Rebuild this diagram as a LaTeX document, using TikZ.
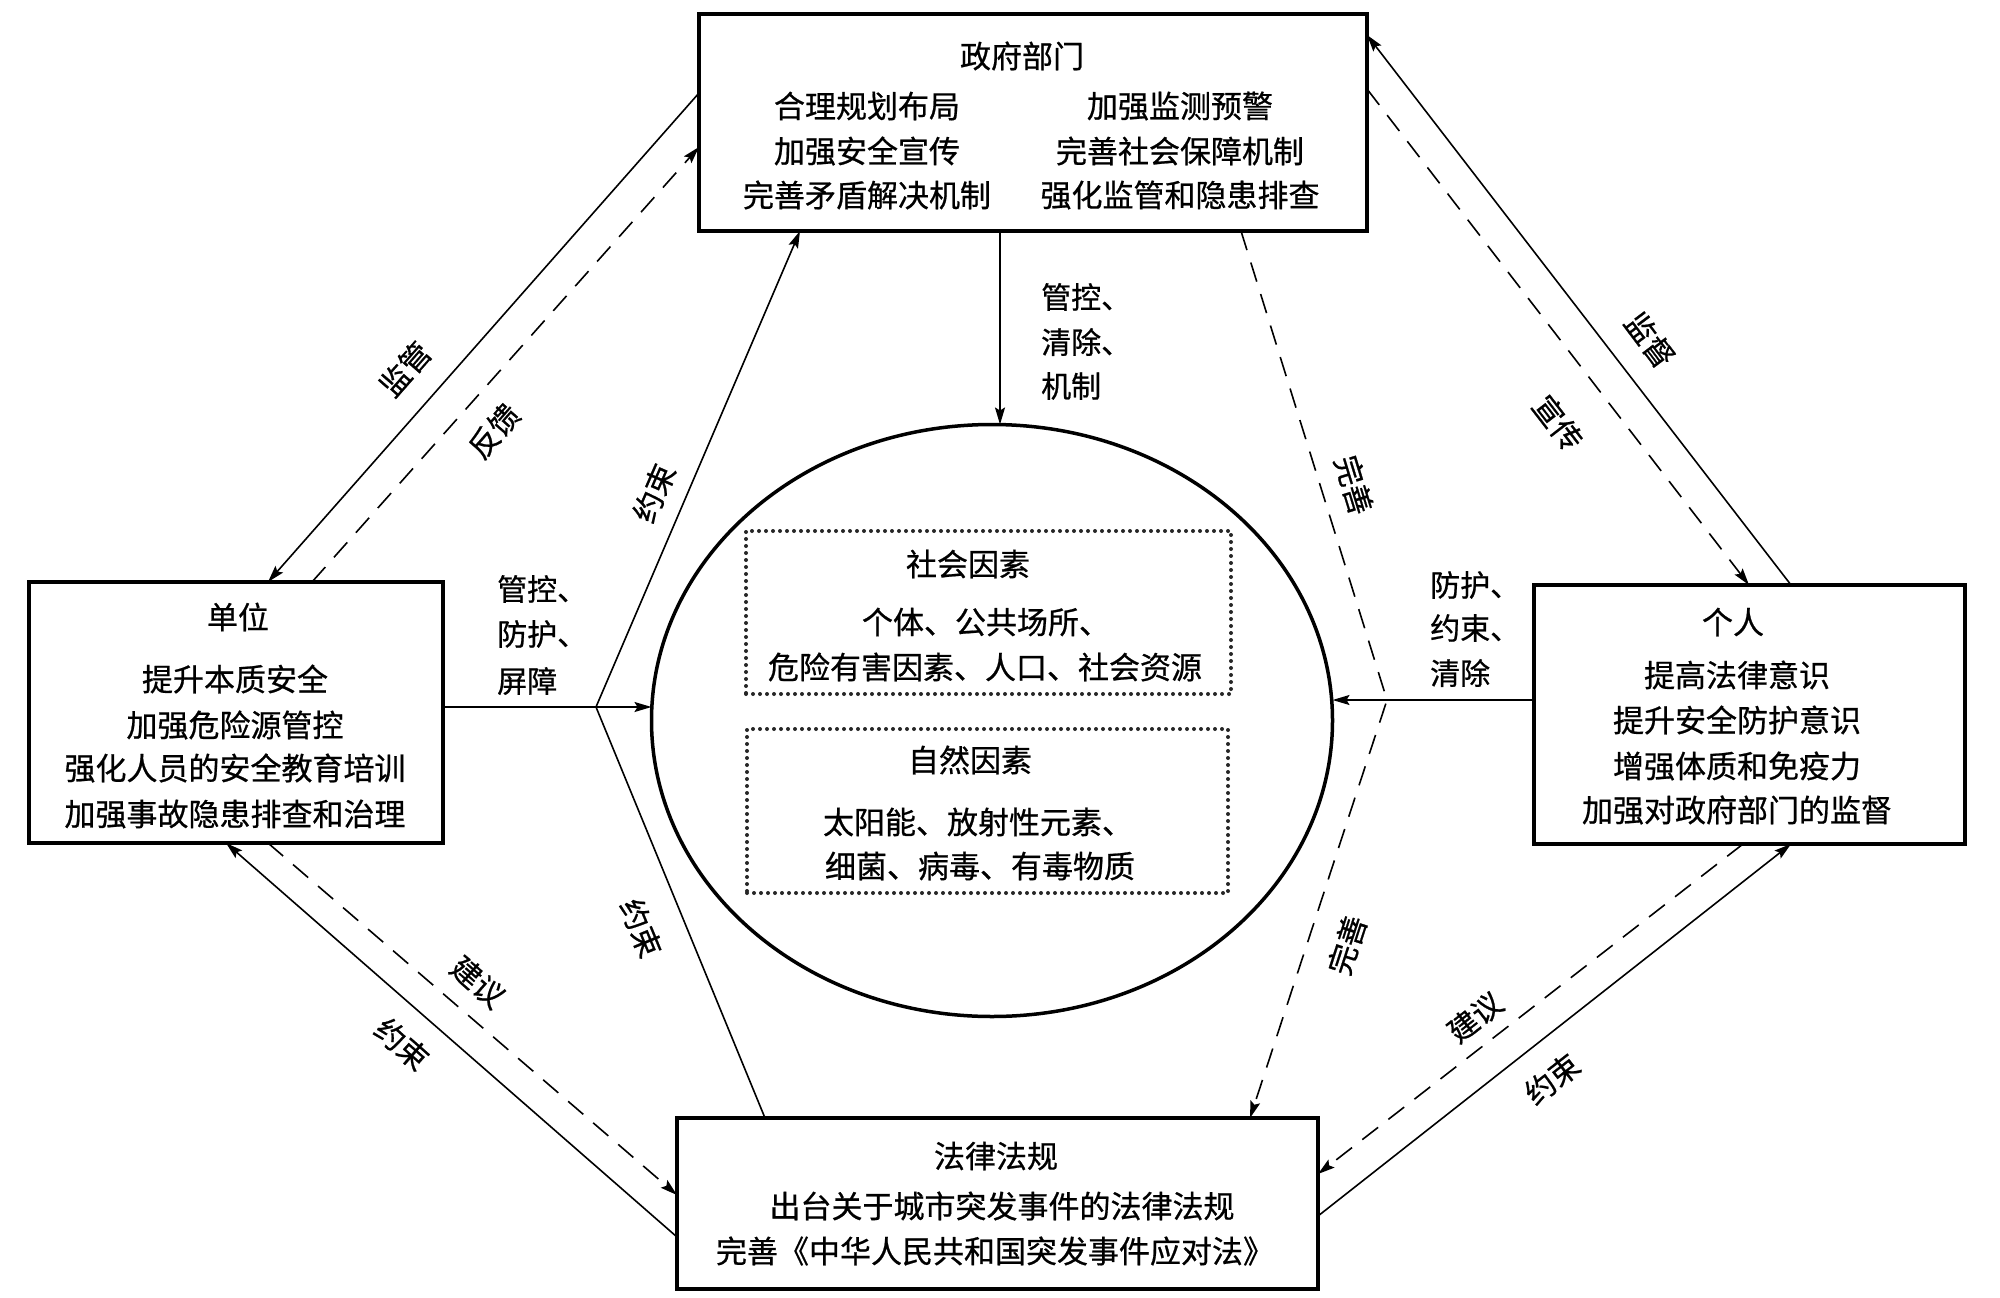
\documentclass[tikz,border=0pt]{standalone}
\usepackage{fontspec}
\newfontfamily\cjk[FakeBold=0.7]{Noto Sans CJK SC}
\usetikzlibrary{arrows.meta,shapes.geometric}
\begin{document}
\begin{tikzpicture}[x=1pt,y=-1pt,
  box/.style={draw, line width=4.5pt, rectangle, inner sep=0pt, outer sep=0pt},
  dotbox/.style={draw=black!85, line width=4pt, dash pattern=on 0pt off 7pt, line cap=round, inner sep=0pt, outer sep=0pt},
  txt/.style={font=\cjk\fontsize{31}{37}\selectfont, inner sep=0pt},
  lbl/.style={font=\cjk\fontsize{30}{36}\selectfont, inner sep=0pt},
  side/.style={lbl, anchor=west},
  conn/.style={line width=1.6pt},
  dsh/.style={line width=1.6pt, dash pattern=on 20pt off 13pt},
  arr/.style={-{Stealth[length=17pt,width=10pt,inset=3pt]}},
]
\useasboundingbox[fill=white] (0,0) rectangle (2000,1298);

% main boxes
\node[box, minimum width=668pt, minimum height=217pt] (gov) at (1033,122.5) {};
\node[box, minimum width=414pt, minimum height=261pt] (unit) at (236,712.5) {};
\node[box, minimum width=431pt, minimum height=259pt] (person) at (1749.5,714.5) {};
\node[box, minimum width=641pt, minimum height=171pt] (law) at (997.5,1203.5) {};
\node[ellipse, draw, line width=3.5pt, inner sep=0pt, outer sep=0pt, minimum width=681pt, minimum height=592pt] (ell) at (992,720.5) {};
\node[dotbox, minimum width=485pt, minimum height=163pt] (soc) at (988.5,612.5) {};
\node[dotbox, minimum width=481pt, minimum height=164pt] (nat) at (987.5,811) {};

% government texts
\node[txt] (govT) at (1022,56) {政府部门};
\node[txt] (govA1) at (867,106) {合理规划布局};
\node[txt] (govA2) at (867,151) {加强安全宣传};
\node[txt] (govA3) at (867,195) {完善矛盾解决机制};
\node[txt] (govB1) at (1180,106) {加强监测预警};
\node[txt] (govB2) at (1180,151) {完善社会保障机制};
\node[txt] (govB3) at (1180,195) {强化监管和隐患排查};

% unit texts
\node[txt] (unitT) at (238,617) {单位};
\node[txt] (unit1) at (235,679) {提升本质安全};
\node[txt] (unit2) at (235,725) {加强危险源管控};
\node[txt] (unit3) at (235,768) {强化人员的安全教育培训};
\node[txt] (unit4) at (235,814) {加强事故隐患排查和治理};

% person texts
\node[txt] (perT) at (1733,622) {个人};
\node[txt] (per1) at (1737,675) {提高法律意识};
\node[txt] (per2) at (1737,720) {提升安全防护意识};
\node[txt] (per3) at (1737,766) {增强体质和免疫力};
\node[txt] (per4) at (1737,810) {加强对政府部门的监督};

% law texts
\node[txt] (lawT) at (996,1156) {法律法规};
\node[txt] (law1) at (1002,1206) {出台关于城市突发事件的法律法规};
\node[txt] (law2) at (995,1251) {完善《中华人民共和国突发事件应对法》};

% factor texts
\node[txt] (socT) at (968,564) {社会因素};
\node[txt] (soc1) at (986,622) {个体、公共场所、};
\node[txt] (soc2) at (985,667) {危险有害因素、人口、社会资源};
\node[txt] (natT) at (970,760) {自然因素};
\node[txt] (nat1) at (978,822) {太阳能、放射性元素、};
\node[txt] (nat2) at (980,866) {细菌、病毒、有毒物质};

% side labels
\node[side] (gl1) at (1041,297) {管控、};
\node[side] (gl2) at (1041,342) {清除、};
\node[side] (gl3) at (1041,386) {机制};
\node[side] (ul1) at (497,589) {管控、};
\node[side] (ul2) at (497,634) {防护、};
\node[side] (ul3) at (497,681) {屏障};
\node[side] (pl1) at (1430,585) {防护、};
\node[side] (pl2) at (1430,628) {约束、};
\node[side] (pl3) at (1430,673) {清除};

% kinks
\coordinate (kL) at (596,707);
\coordinate (kR) at (1387,700);

% connectors
\draw[conn, arr] (gov.west |- 0,93) -- (268,0 |- unit.north);
\draw[dsh, arr] (312,0 |- unit.north) -- (gov.west |- 0,147);
\draw[conn, arr] (1000,0 |- gov.south) -- (1000,0 |- ell.north);
\draw[dsh, arr] (1241,0 |- gov.south) -- (kR) -- (1250,0 |- law.north);
\draw[conn, arr] (765,0 |- law.north) -- (kL) -- (800,0 |- gov.south);
\draw[conn, arr] (unit.east |- kL) -- (ell.west |- kL);
\draw[conn, arr] (person.west |- kR) -- (ell.east |- kR);
\draw[conn, arr] (1791,0 |- person.north) -- (gov.east |- 0,35);
\draw[dsh, arr] (gov.east |- 0,89) -- (1749,0 |- person.north);
\draw[conn, arr] (law.west |- 0,1237) -- (226,0 |- unit.south);
\draw[dsh, arr] (268,0 |- unit.south) -- (law.west |- 0,1195);
\draw[conn, arr] (law.east |- 0,1216) -- (1791,0 |- person.south);
\draw[dsh, arr] (1743,0 |- person.south) -- (law.east |- 0,1174);

% connector labels
\node[lbl, rotate=48.8] (lJG) at (405,369) {监管};
\node[lbl, rotate=48.8] (lFK) at (494,431) {反馈};
\node[lbl, rotate=66.5] (lYS1) at (654,493) {约束};
\node[lbl, rotate=-67.6] (lYS2) at (641,928) {约束};
\node[lbl, rotate=-73] (lWS1) at (1354,485) {完善};
\node[lbl, rotate=72] (lWS2) at (1347,945) {完善};
\node[lbl, rotate=-53] (lJD) at (1650,340) {监督};
\node[lbl, rotate=-52.3] (lXC) at (1558,423) {宣传};
\node[lbl, rotate=-41.4] (lYS3) at (402,1044) {约束};
\node[lbl, rotate=-41] (lJY1) at (478,982) {建议};
\node[lbl, rotate=38] (lYS4) at (1552,1079) {约束};
\node[lbl, rotate=38] (lJY2) at (1475,1017) {建议};
\end{tikzpicture}
\end{document}
